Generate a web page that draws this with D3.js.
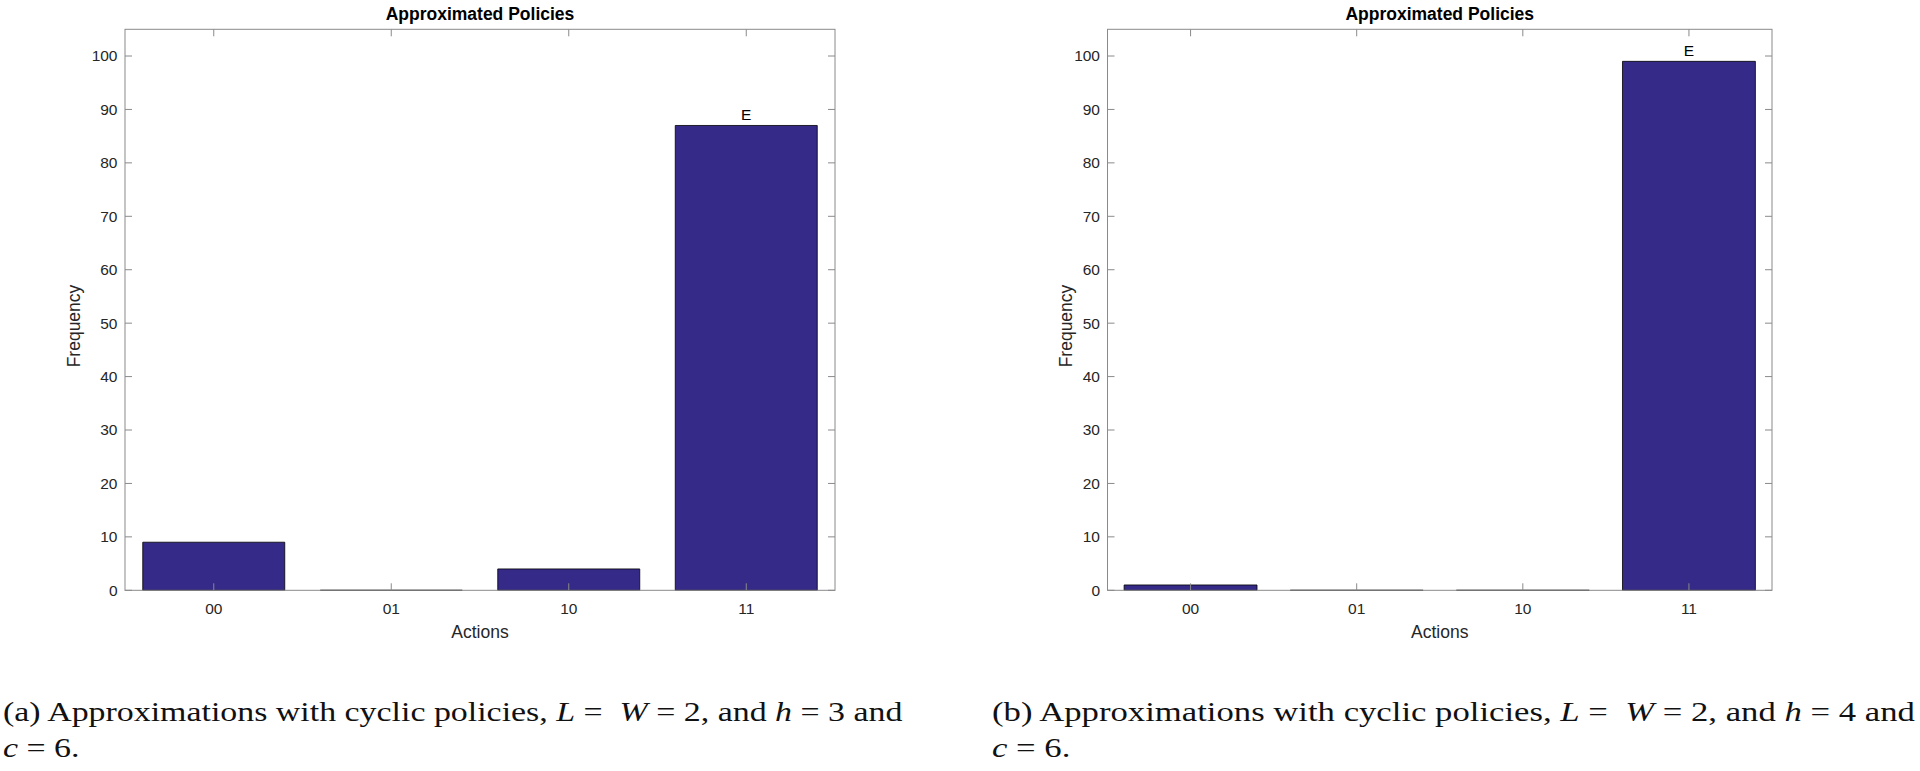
<!DOCTYPE html>
<html>
<head>
<meta charset="utf-8">
<script src="https://cdn.jsdelivr.net/npm/d3@7"></script>
<style>
  html, body { margin: 0; padding: 0; background: #fff; }
  svg { display: block; }
</style>
</head>
<body>
<svg id="chart" width="1920" height="771"></svg>
<script>
// ---- data ----
const categories = ["00", "01", "10", "11"];
const valuesA = [9, 0, 4, 87];
const valuesB = [1, 0, 0, 99];
const barLabelsA = ["", "", "", "E"];
const barLabelsB = ["", "", "", "E"];
const yTicks = [0, 10, 20, 30, 40, 50, 60, 70, 80, 90, 100];
const yMax = 105;
const chartTitle = "Approximated Policies";
const xLabel = "Actions";
const yLabel = "Frequency";
const captionA = [
  [["(a) Approximations with cyclic policies, ", false], ["L", true], [" =  ", false], ["W", true], [" = 2, and ", false], ["h", true], [" = 3 and", false]],
  [["c", true], [" = 6.", false]]
];
const captionB = [
  [["(b) Approximations with cyclic policies, ", false], ["L", true], [" =  ", false], ["W", true], [" = 2, and ", false], ["h", true], [" = 4 and", false]],
  [["c", true], [" = 6.", false]]
];

const svg = d3.select("#chart");
const sans = "'Liberation Sans', Arial, Helvetica, sans-serif";
const serif = "'Liberation Serif', 'Times New Roman', serif";
const barColor = "#352a87";
const axisColor = "#8a8a8a";
const textColor = "#262626";

function drawPanel(cfg) {
  const { left, right, top, bottom, values, labels, yLabelX, yLabelY } = cfg;
  const g = svg.append("g");
  const x = d3.scaleBand().domain(categories).range([left, right])
    .paddingInner(0.2).paddingOuter(0.1);
  const y = d3.scaleLinear().domain([0, yMax]).range([bottom, top]);
  const tickLen = 7;

  // bars (path so zero-height bars still show an outline)
  g.selectAll("path.bar").data(categories).join("path")
    .attr("class", "bar")
    .attr("d", (c, i) => {
      const x0 = x(c), x1 = x(c) + x.bandwidth();
      const y0 = y(0), y1 = y(values[i]);
      return `M${x0},${y0}L${x0},${y1}L${x1},${y1}L${x1},${y0}Z`;
    })
    .attr("fill", barColor)
    .attr("stroke", "#000")
    .attr("stroke-width", 0.8);

  // box
  g.append("rect")
    .attr("x", left).attr("y", top)
    .attr("width", right - left).attr("height", bottom - top)
    .attr("fill", "none").attr("stroke", axisColor).attr("stroke-width", 1);

  // y ticks (left & right, inward)
  yTicks.forEach(t => {
    const yy = y(t);
    g.append("line").attr("x1", left).attr("x2", left + tickLen)
      .attr("y1", yy).attr("y2", yy).attr("stroke", axisColor);
    g.append("line").attr("x1", right).attr("x2", right - tickLen)
      .attr("y1", yy).attr("y2", yy).attr("stroke", axisColor);
  });
  // x ticks (bottom & top, inward)
  categories.forEach(c => {
    const xx = x(c) + x.bandwidth() / 2;
    g.append("line").attr("x1", xx).attr("x2", xx)
      .attr("y1", bottom).attr("y2", bottom - tickLen).attr("stroke", axisColor);
    g.append("line").attr("x1", xx).attr("x2", xx)
      .attr("y1", top).attr("y2", top + tickLen).attr("stroke", axisColor);
  });

  // y tick labels
  g.selectAll("text.ytl").data(yTicks).join("text")
    .attr("class", "ytl")
    .attr("x", left - 7.5)
    .attr("y", d => y(d))
    .attr("dy", "0.35em")
    .attr("text-anchor", "end")
    .attr("font-family", sans).attr("font-size", 15.5)
    .attr("fill", textColor)
    .text(d => d);

  // x tick labels
  g.selectAll("text.xtl").data(categories).join("text")
    .attr("class", "xtl")
    .attr("x", d => x(d) + x.bandwidth() / 2)
    .attr("y", bottom + 24)
    .attr("text-anchor", "middle")
    .attr("font-family", sans).attr("font-size", 15.5)
    .attr("fill", textColor)
    .text(d => d);

  // bar annotations
  g.selectAll("text.bl").data(categories).join("text")
    .attr("class", "bl")
    .attr("x", d => x(d) + x.bandwidth() / 2)
    .attr("y", (d, i) => y(values[i]) - 5)
    .attr("text-anchor", "middle")
    .attr("font-family", sans).attr("font-size", 15.5)
    .attr("fill", "#000")
    .text((d, i) => labels[i]);

  // title
  g.append("text")
    .attr("x", (left + right) / 2).attr("y", 19.5)
    .attr("text-anchor", "middle")
    .attr("font-family", sans).attr("font-size", 17.5).attr("font-weight", "bold")
    .attr("fill", "#000")
    .text(chartTitle);

  // x axis label
  g.append("text")
    .attr("x", (left + right) / 2).attr("y", 637.5)
    .attr("text-anchor", "middle")
    .attr("font-family", sans).attr("font-size", 17.5)
    .attr("fill", textColor)
    .text(xLabel);

  // y axis label
  g.append("text")
    .attr("transform", `translate(${yLabelX},${yLabelY}) rotate(-90)`)
    .attr("text-anchor", "middle")
    .attr("font-family", sans).attr("font-size", 17.5)
    .attr("fill", textColor)
    .text(yLabel);
}

function drawCaption(lines, x0, baselines, widthLine1) {
  let sx = 1;
  lines.forEach((parts, li) => {
    const t = svg.append("text")
      .attr("x", 0).attr("y", 0)
      .attr("font-family", serif).attr("font-size", 27)
      .attr("fill", "#111")
      .attr("xml:space", "preserve")
      .style("white-space", "pre");
    parts.forEach(([s, it]) => {
      t.append("tspan").attr("font-style", it ? "italic" : "normal").text(s);
    });
    if (li === 0) {
      const w = t.node().getComputedTextLength();
      sx = widthLine1 / w;
    }
    t.attr("transform", `translate(${x0},${baselines[li]}) scale(${sx},1)`);
  });
}

drawPanel({ left: 125, right: 835, top: 29.3, bottom: 590.3,
  values: valuesA, labels: barLabelsA, yLabelX: 80, yLabelY: 326 });
drawPanel({ left: 1107.5, right: 1772, top: 29.3, bottom: 590.3,
  values: valuesB, labels: barLabelsB, yLabelX: 1072, yLabelY: 326 });

drawCaption(captionA, 3, [720.7, 757.3], 900);
drawCaption(captionB, 992, [720.7, 757.3], 923);
</script>
</body>
</html>
